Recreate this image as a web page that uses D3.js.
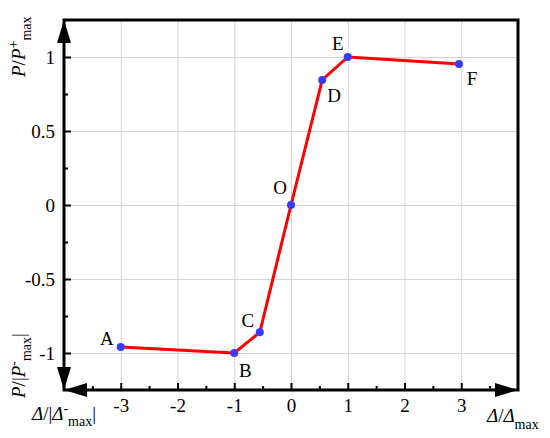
<!DOCTYPE html>
<html>
  <head>
    <title>Skeleton curve</title>
    <script src="https://d3js.org/d3.v7.min.js"></script>
    <style>
      body { margin: 0; background: #fff; }
      svg text { font-family: "Liberation Serif", "Times New Roman", "DejaVu Serif", serif !important; }
    </style>
  </head>
  <body>
    <div id="graph-container"></div>
    <script>
      // feature points of the curve
      const names = ["A", "B", "C", "O", "D", "E", "F"];
      const xValues = [-3, -1, -0.55, 0, 0.55, 1, 2.96];
      const yValues = [-0.96, -1.0, -0.86, 0, 0.845, 1.0, 0.953];

      const xTicks = [-3, -2, -1, 0, 1, 2, 3];
      const xMinorTicks = [-3.5, -2.5, -1.5, -0.5, 0.5, 1.5, 2.5, 3.5];
      const yTicks = [-1, -0.5, 0, 0.5, 1];
      const yMinorTicks = [-0.75, -0.25, 0.25, 0.75];

      const data = names.map((n, i) => ({ name: n, x: xValues[i], y: yValues[i] }));

      const width = 550;
      const height = 438;
      const serif = '"Liberation Serif", "Times New Roman", serif';

      const svg = d3.select("#graph-container")
        .append("svg")
        .attr("width", width)
        .attr("height", height)
        .style("font-family", serif);

      const x = d3.scaleLinear().domain([-4, 4]).range([64, 518]);
      const y = d3.scaleLinear().domain([-1.25, 1.25]).range([390, 20]);

      const x0 = x.range()[0], x1 = x.range()[1];
      const y0 = y.range()[0], y1 = y.range()[1];

      // plain hyphen for negatives, like the original
      const fmt = d => String(d);

      // grid
      svg.append("g")
        .attr("transform", "translate(0," + y0 + ")")
        .call(d3.axisBottom(x).tickValues(xTicks).tickSize(-(y0 - y1)).tickFormat(""))
        .call(g => g.select(".domain").remove())
        .call(g => g.selectAll("line").attr("stroke", "#d4d4d4").attr("stroke-width", 1));

      svg.append("g")
        .attr("transform", "translate(" + x0 + ",0)")
        .call(d3.axisLeft(y).tickValues(yTicks).tickSize(-(x1 - x0)).tickFormat(""))
        .call(g => g.select(".domain").remove())
        .call(g => g.selectAll("line").attr("stroke", "#d4d4d4").attr("stroke-width", 1));

      // minor ticks
      svg.append("g")
        .attr("transform", "translate(0," + y0 + ")")
        .call(d3.axisBottom(x).tickValues(xMinorTicks).tickSize(-4).tickFormat(""))
        .call(g => g.select(".domain").remove())
        .call(g => g.selectAll("line").attr("stroke", "#000").attr("stroke-width", 2));

      svg.append("g")
        .attr("transform", "translate(" + x0 + ",0)")
        .call(d3.axisLeft(y).tickValues(yMinorTicks).tickSize(-4).tickFormat(""))
        .call(g => g.select(".domain").remove())
        .call(g => g.selectAll("line").attr("stroke", "#000").attr("stroke-width", 2));

      // major ticks + labels
      const xAxis = svg.append("g")
        .attr("transform", "translate(0," + y0 + ")")
        .call(d3.axisBottom(x).tickValues(xTicks).tickSize(-7).tickPadding(12).tickFormat(fmt))
        .call(g => g.select(".domain").remove());

      const yAxis = svg.append("g")
        .attr("transform", "translate(" + x0 + ",0)")
        .call(d3.axisLeft(y).tickValues(yTicks).tickSize(-7).tickPadding(9).tickFormat(fmt))
        .call(g => g.select(".domain").remove());

      [xAxis, yAxis].forEach(g => {
        g.attr("font-family", null).attr("font-size", null).style("font-family", serif);
        g.selectAll("line").attr("stroke", "#000").attr("stroke-width", 2);
        g.selectAll("text")
          .style("font-family", serif)
          .attr("font-size", 19)
          .attr("fill", "#000");
      });
      xAxis.selectAll("text").attr("dy", "0.55em");
      yAxis.selectAll("text").attr("dy", "0.35em");

      // frame
      svg.append("rect")
        .attr("x", x0).attr("y", y1)
        .attr("width", x1 - x0).attr("height", y0 - y1)
        .attr("fill", "none")
        .attr("stroke", "#000")
        .attr("stroke-width", 3);

      // arrows
      const aL = 23, aW = 7;
      const arrows = [
        [[x0, y1], [x0 - aW, y1 + aL], [x0 + aW, y1 + aL]],
        [[x0, y0], [x0 - aW, y0 - aL], [x0 + aW, y0 - aL]],
        [[x0, y0], [x0 + aL, y0 - aW], [x0 + aL, y0 + aW]],
        [[x1, y0], [x1 - aL, y0 - aW], [x1 - aL, y0 + aW]]
      ];
      svg.selectAll(".arrow")
        .data(arrows)
        .enter()
        .append("path")
        .attr("class", "arrow")
        .attr("d", d => "M" + d.map(p => p.join(",")).join("L") + "Z")
        .attr("fill", "#000");

      // curve
      const line = d3.line().x(d => x(d.x)).y(d => y(d.y));
      svg.append("path")
        .datum(data)
        .attr("d", line)
        .attr("fill", "none")
        .attr("stroke", "#ff0000")
        .attr("stroke-width", 3)
        .attr("stroke-linejoin", "round");

      svg.selectAll(".point")
        .data(data)
        .enter()
        .append("circle")
        .attr("cx", d => x(d.x))
        .attr("cy", d => y(d.y))
        .attr("r", 4)
        .attr("fill", "#3a3aff");

      const labelOffset = {
        A: [-14, -2], B: [11, 24], C: [-12, -5], O: [-11, -11],
        D: [12, 22], E: [-10, -7], F: [13, 21]
      };
      svg.selectAll(".plabel")
        .data(data)
        .enter()
        .append("text")
        .attr("x", d => x(d.x) + labelOffset[d.name][0])
        .attr("y", d => y(d.y) + labelOffset[d.name][1])
        .attr("text-anchor", "middle")
        .attr("font-size", 19)
        .style("font-family", serif)
        .text(d => d.name);

      // axis titles
      function title(g, parts) {
        const t = g.append("text").attr("font-size", 19).style("font-family", serif);
        parts.forEach(p => {
          const s = t.append("tspan").text(p.t);
          if (p.i) s.attr("font-style", "italic");
          if (p.s) s.attr("font-size", p.s);
          if (p.dy) s.attr("dy", p.dy);
        });
        return t;
      }

      title(svg.append("g").attr("transform", "translate(25,77) rotate(-90)"), [
        { t: "P", i: 1 }, { t: "/" }, { t: "P", i: 1 },
        { t: "+", s: 14, dy: -7 }, { t: "max", s: 14, dy: 13 }
      ]);

      title(svg.append("g").attr("transform", "translate(25,398) rotate(-90)"), [
        { t: "P", i: 1 }, { t: "/|" }, { t: "P", i: 1 },
        { t: "-", s: 14, dy: -7 }, { t: "max", s: 14, dy: 13 }, { t: "|", dy: -6 }
      ]);

      title(svg.append("g").attr("transform", "translate(32,420)"), [
        { t: "Δ", i: 1 }, { t: "/|" }, { t: "Δ", i: 1 },
        { t: "-", s: 14, dy: -7 }, { t: "max", s: 14, dy: 13 }, { t: "|", dy: -6 }
      ]);

      title(svg.append("g").attr("transform", "translate(487,422)"), [
        { t: "Δ", i: 1 }, { t: "/" }, { t: "Δ", i: 1 },
        { t: "max", s: 14, dy: 7 }
      ]);
    </script>
  </body>
</html>
